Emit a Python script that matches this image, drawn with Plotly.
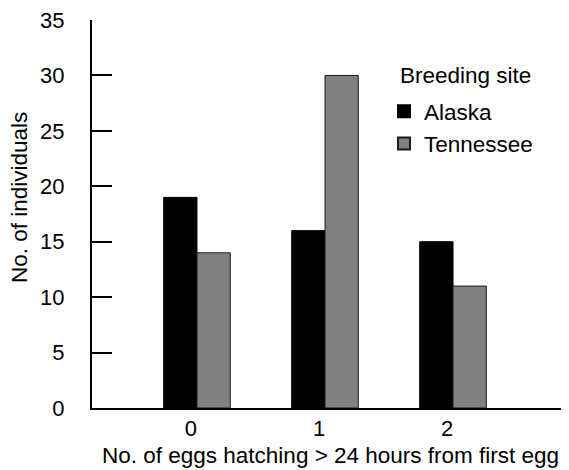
import plotly.graph_objects as go

categories = ["0", "1", "2"]
alaska = [19, 16, 15]
tennessee = [14, 30, 11]
y_tick_vals = [0, 5, 10, 15, 20, 25, 30, 35]
y_tick_text = ["0", "5", "10", "15", "20", "25", "30", "35"]

FONT = "Liberation Sans, Arial, sans-serif"
FS = 22.5

fig = go.Figure()
fig.add_trace(go.Bar(
    x=categories, y=alaska, name="Alaska",
    marker=dict(color="#000000", line=dict(color="#000000", width=1)),
))
fig.add_trace(go.Bar(
    x=categories, y=tennessee, name="Tennessee",
    marker=dict(color="#808080", line=dict(color="#1a1a1a", width=1)),
))

# page body has an 8px margin; figure is sized to fill the rest of the window
W, H = 561, 462
L, R, T, B = 84, 0, 12, 62
plot_h = H - T - B
plot_w = W - L - R


def px(xf):
    return (xf - L) / plot_w


def py(yf):
    return (H - B - yf) / plot_h


fig.update_layout(
    width=W, height=H,
    margin=dict(l=L, r=R, t=T, b=B, pad=0),
    paper_bgcolor="white", plot_bgcolor="white",
    font=dict(family=FONT, size=FS, color="black"),
    barmode="group", bargap=0.48, bargroupgap=0,
    showlegend=True,
    legend=dict(
        x=px(376), y=py(82), xanchor="left", yanchor="top",
        bgcolor="rgba(0,0,0,0)", font=dict(size=FS),
        tracegroupgap=0, itemsizing="constant",
    ),
    xaxis=dict(
        type="category", range=[-0.82, 2.906],
        showline=True, linecolor="black", linewidth=2,
        ticks="", showgrid=False, zeroline=False,
        ticklabelstandoff=0, ticklabelshift=-6,
        tickfont=dict(size=22),
    ),
    yaxis=dict(
        range=[0, 35], tickvals=y_tick_vals, ticktext=y_tick_text,
        showline=True, linecolor="black", linewidth=2,
        ticks="", showgrid=False, zeroline=False,
        ticklabelstandoff=21, ticklabeloverflow="allow",
        tickfont=dict(size=22),
        minor=dict(tickvals=y_tick_vals[1:-1], ticks="inside", ticklen=20,
                   tickwidth=2, tickcolor="black", showgrid=False),
    ),
    annotations=[
        dict(text="Breeding site", xref="paper", yref="paper",
             x=px(390), y=py(67), xanchor="left", yanchor="middle",
             showarrow=False, font=dict(size=FS)),
        dict(text="No. of individuals", textangle=-90, xref="paper", yref="paper",
             x=px(11), y=py(190),
             xanchor="center", yanchor="middle", showarrow=False,
             font=dict(size=FS)),
        dict(text="No. of eggs hatching > 24 hours from first egg", xref="paper", yref="paper",
             x=px(322), y=py(447),
             xanchor="center", yanchor="middle", showarrow=False,
             font=dict(size=FS)),
    ],
)

fig.write_html("out.html")
